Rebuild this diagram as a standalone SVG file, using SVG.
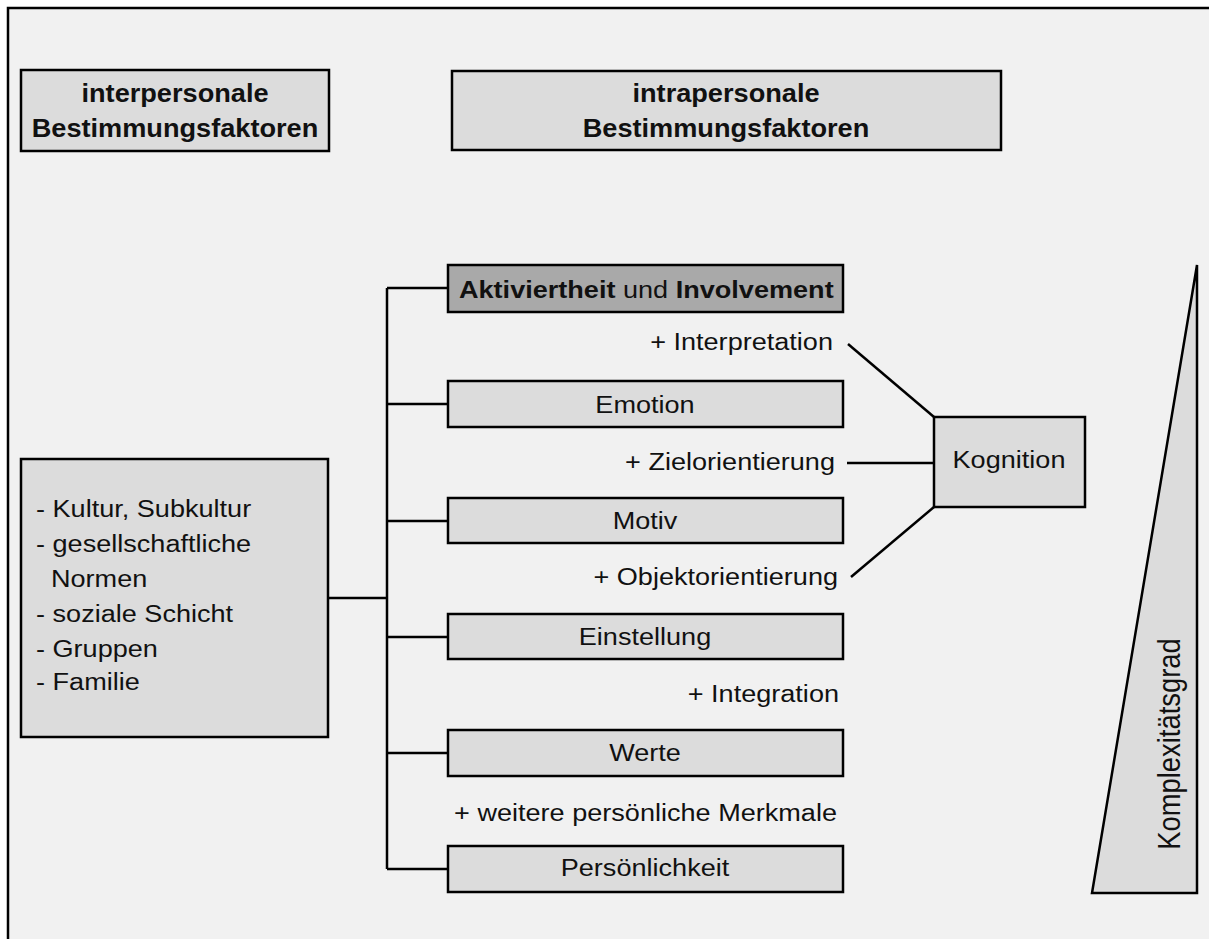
<svg xmlns="http://www.w3.org/2000/svg" width="1209" height="939" viewBox="0 0 1209 939">
  <style>
    .frame { fill: #f1f1f1; stroke: #000; stroke-width: 2.5; }
    .box { fill: #dcdcdc; stroke: #000; stroke-width: 2.5; }
    .box-dark { fill: #a9a9a9; stroke: #000; stroke-width: 2.5; }
    .wedge { fill: #dcdcdc; stroke: #000; stroke-width: 2.5; stroke-linejoin: miter; }
    .link { fill: none; stroke: #000; stroke-width: 2.5; }
    text { font-family: "Liberation Sans", Arial, sans-serif; font-size: 24.4px; fill: #111; }
    .head { font-size: 25.5px; font-weight: bold; }
    .b { font-weight: bold; }
    .mid { text-anchor: middle; }
    .end { text-anchor: end; }
  </style>

  <rect width="1209" height="939" fill="#ffffff"/>
  <rect class="frame" x="8" y="8" width="1230" height="960"/>

  <!-- column headers -->
  <g id="header-inter">
    <rect class="box" x="21" y="70" width="308" height="81"/>
    <text class="head mid" transform="translate(175,102) scale(1.065,1)">interpersonale</text>
    <text class="head mid" transform="translate(175,137) scale(1.065,1)">Bestimmungsfaktoren</text>
  </g>
  <g id="header-intra">
    <rect class="box" x="452" y="71" width="549" height="79"/>
    <text class="head mid" transform="translate(726,102) scale(1.065,1)">intrapersonale</text>
    <text class="head mid" transform="translate(726,137) scale(1.065,1)">Bestimmungsfaktoren</text>
  </g>

  <!-- connectors -->
  <g id="connectors">
    <path class="link" d="M328,598 H387"/>
    <path class="link" d="M387,288 V869"/>
    <path class="link" d="M387,288 H448 M387,404 H448 M387,521 H448 M387,637 H448 M387,753 H448 M387,869 H448"/>
    <path class="link" d="M848,344 L934,417"/>
    <path class="link" d="M847,463 H934"/>
    <path class="link" d="M851,577 L934,507"/>
  </g>

  <!-- interpersonal factors -->
  <g id="inter-factors">
    <rect class="box" x="21" y="459" width="307" height="278"/>
    <text transform="translate(36,517) scale(1.11,1)">- Kultur, Subkultur</text>
    <text transform="translate(36,552) scale(1.11,1)">- gesellschaftliche</text>
    <text transform="translate(51,587) scale(1.11,1)">Normen</text>
    <text transform="translate(36,622) scale(1.11,1)">- soziale Schicht</text>
    <text transform="translate(36,657) scale(1.11,1)">- Gruppen</text>
    <text transform="translate(36,690) scale(1.11,1)">- Familie</text>
  </g>

  <!-- intrapersonal factors -->
  <g id="aktiviertheit">
    <rect class="box-dark" x="448" y="265" width="395" height="47"/>
    <text transform="translate(459,298) scale(1.11,1)"><tspan class="b">Aktiviertheit</tspan> und <tspan class="b">Involvement</tspan></text>
  </g>
  <g id="emotion">
    <rect class="box" x="448" y="381" width="395" height="46"/>
    <text class="mid" transform="translate(645,413) scale(1.11,1)">Emotion</text>
  </g>
  <g id="motiv">
    <rect class="box" x="448" y="498" width="395" height="45"/>
    <text class="mid" transform="translate(645,529) scale(1.11,1)">Motiv</text>
  </g>
  <g id="einstellung">
    <rect class="box" x="448" y="614" width="395" height="45"/>
    <text class="mid" transform="translate(645,645) scale(1.11,1)">Einstellung</text>
  </g>
  <g id="werte">
    <rect class="box" x="448" y="730" width="395" height="46"/>
    <text class="mid" transform="translate(645,761) scale(1.11,1)">Werte</text>
  </g>
  <g id="persoenlichkeit">
    <rect class="box" x="448" y="846" width="395" height="46"/>
    <text class="mid" transform="translate(645,876) scale(1.11,1)">Persönlichkeit</text>
  </g>

  <!-- increments between levels -->
  <g id="increments">
    <text class="end" transform="translate(833,350) scale(1.11,1)">+ Interpretation</text>
    <text class="end" transform="translate(835,470) scale(1.11,1)">+ Zielorientierung</text>
    <text class="end" transform="translate(838,585) scale(1.11,1)">+ Objektorientierung</text>
    <text class="end" transform="translate(839,702) scale(1.11,1)">+ Integration</text>
    <text class="end" transform="translate(837,821) scale(1.11,1)">+ weitere persönliche Merkmale</text>
  </g>

  <g id="kognition">
    <rect class="box" x="934" y="417" width="151" height="90"/>
    <text class="mid" transform="translate(1009,468) scale(1.11,1)">Kognition</text>
  </g>

  <!-- complexity wedge -->
  <g id="komplexitaet">
    <polygon class="wedge" points="1197,265 1197,893 1092,893"/>
    <text class="mid" style="font-size:27.4px" transform="translate(1180,744) scale(1.12,1) rotate(-90)">Komplexitätsgrad</text>
  </g>
</svg>
